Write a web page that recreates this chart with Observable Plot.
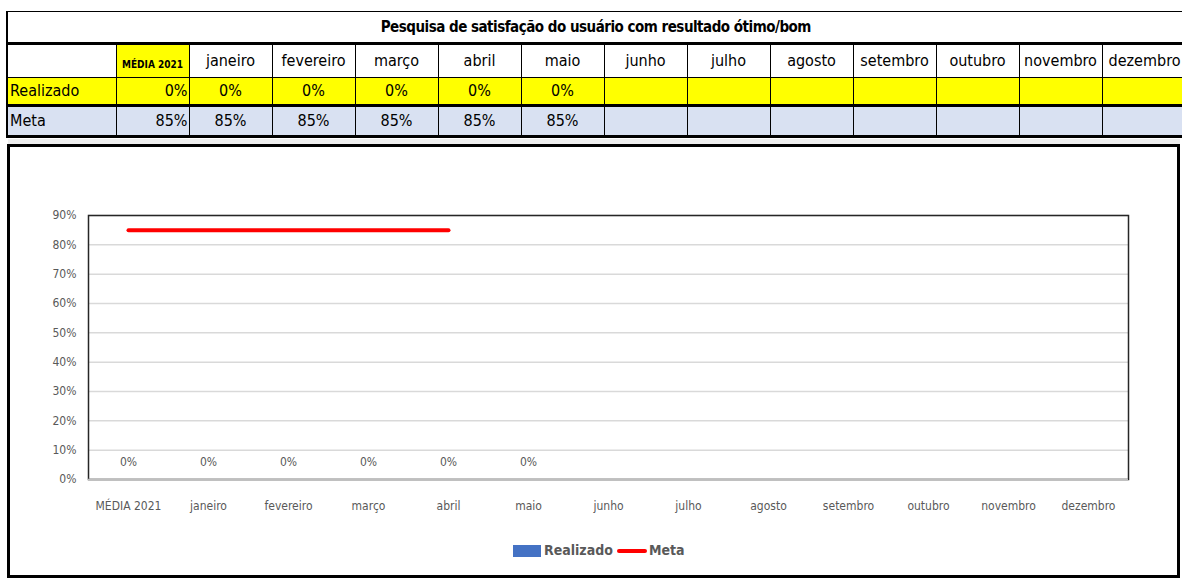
<!DOCTYPE html>
<html>
<head>
<meta charset="utf-8">
<script src="https://cdn.jsdelivr.net/npm/d3@7"></script>
<script src="https://cdn.jsdelivr.net/npm/@observablehq/plot@0.6"></script>
<style>
  html, body { margin: 0; padding: 0; background: #fff; width: 1182px; height: 580px; overflow: hidden; }
  body { position: relative; font-family: "DejaVu Sans Condensed", "DejaVu Sans", sans-serif; font-stretch: condensed; }
  #tbl { position: absolute; left: 6px; top: 11px; border-collapse: collapse; table-layout: fixed; width: 1180px; }
  #tbl td { padding: 0 3px; border-left: 1px solid #000; border-right: 1px solid #000; font-size: 16px; line-height: 18px; color: #000; white-space: nowrap; overflow: hidden; box-sizing: border-box; }
  #tbl tr.title td { border-top: 1px solid #000; border-left: 2px solid #000; border-bottom: 3px solid #000; height: 32px; text-align: center; font-weight: bold; font-size: 15px; letter-spacing: -0.5px; padding-left: 0; }
  #tbl tr.head td { height: 34px; text-align: center; border-bottom: 1px solid #000; background: #fff; }
  #tbl tr.head td.media { background: #FFFF00; font-weight: bold; font-size: 10px; padding-top: 7px; }
  #tbl tr.real td { height: 28px; background: #FFFF00; text-align: center; border-bottom: 3px solid #000; }
  #tbl tr.meta td { height: 31px; background: #D9E1F2; text-align: center; border-bottom: 3px solid #000; }
  #tbl tr td.lab { text-align: left; border-left: 2px solid #000; padding-left: 2px; }
  #tbl tr td.right { text-align: right; padding-right: 1px; }
  #gap { position: absolute; left: 8px; top: 139px; width: 1172px; height: 5px; background: #eeeeee; }
  #box { position: absolute; left: 7px; top: 144px; width: 1167px; height: 428px; border: 3px solid #000; background: #fff; }
  #chart { position: absolute; left: 2px; top: 1px; }
  #legend { position: absolute; left: 0; top: 393px; width: 100%; height: 20px; }
  .sw { position: absolute; }
  .lt { position: absolute; font-weight: bold; font-size: 14px; color: #595959; top: 0; line-height: 20px; }
</style>
</head>
<body>
<table id="tbl"></table>
<div id="gap"></div>
<div id="box">
  <div id="chart"></div>
  <div id="legend">
    <div class="sw" style="left:503px; top:5px; width:28px; height:12px; background:#4472C4;"></div>
    <div class="lt" style="left:534px;">Realizado</div>
    <div class="sw" style="left:607px; top:9px; width:30px; height:4px; background:#FF0000; border-radius:2px;"></div>
    <div class="lt" style="left:639px;">Meta</div>
  </div>
</div>
<script>
const title = "Pesquisa de satisfação do usuário com resultado ótimo/bom";
const categories = ["MÉDIA 2021","janeiro","fevereiro","março","abril","maio","junho","julho","agosto","setembro","outubro","novembro","dezembro"];
const realizado = [0, 0, 0, 0, 0, 0, null, null, null, null, null, null, null];
const meta = [0.85, 0.85, 0.85, 0.85, 0.85, 0.85, null, null, null, null, null, null, null];
// Meta line as drawn in the chart (stops at abril)
const metaChart = [0.85, 0.85, 0.85, 0.85, 0.85, null, null, null, null, null, null, null, null];
const yTicks = [0, 0.1, 0.2, 0.3, 0.4, 0.5, 0.6, 0.7, 0.8, 0.9];

const pct = d3.format(".0%");

// ---- table ----
const colWidths = [109, 73].concat(Array(11).fill(83)).concat([85]);
const tbl = document.getElementById("tbl");
const cg = document.createElement("colgroup");
colWidths.forEach(w => { const c = document.createElement("col"); c.style.width = w + "px"; cg.appendChild(c); });
tbl.appendChild(cg);
function row(cls) { const tr = document.createElement("tr"); tr.className = cls; tbl.appendChild(tr); return tr; }
function cell(tr, text, cls) { const td = document.createElement("td"); td.textContent = text; if (cls) td.className = cls; tr.appendChild(td); return td; }
const tr0 = row("title");
const tt = cell(tr0, title); tt.colSpan = categories.length + 1;
const tr1 = row("head");
cell(tr1, "", "lab");
categories.forEach((c, i) => cell(tr1, c, i === 0 ? "media" : ""));
const tr2 = row("real");
cell(tr2, "Realizado", "lab");
realizado.forEach((v, i) => cell(tr2, v == null ? "" : pct(v), i === 0 ? "right" : ""));
const tr3 = row("meta");
cell(tr3, "Meta", "lab");
meta.forEach((v, i) => cell(tr3, v == null ? "" : pct(v), i === 0 ? "right" : ""));

// ---- chart ----
const barData = categories.map((c, i) => ({cat: c, v: realizado[i]})).filter(d => d.v != null);
const lineData = categories.map((c, i) => ({cat: c, v: metaChart[i]})).filter(d => d.v != null);

const chart = Plot.plot({
  width: 1165,
  height: 382,
  marginLeft: 76,
  marginRight: 49,
  marginTop: 67,
  marginBottom: 51,
  style: { fontFamily: "'DejaVu Sans Condensed', 'DejaVu Sans', sans-serif", fontSize: "12px", color: "#595959", background: "transparent" },
  x: { domain: categories, paddingInner: 0.4, paddingOuter: 0.2, label: null, tickSize: 0, tickPadding: 22 },
  y: { domain: [0, 0.9], ticks: yTicks, tickFormat: pct, label: null, tickSize: 0, tickPadding: 12 },
  marks: [
    Plot.gridY(yTicks, { stroke: "#d9d9d9", strokeOpacity: 1, strokeWidth: 1.5 }),
    Plot.frame({ stroke: "#262626", strokeWidth: 1.5 }),
    Plot.ruleY([0], { stroke: "#bfbfbf", strokeWidth: 1.5 }),
    Plot.barY(barData, { x: "cat", y: "v", fill: "#4472C4" }),
    Plot.text(barData, { x: "cat", y: "v", text: d => pct(d.v), dy: -17, fill: "#595959", fontSize: 12 }),
    Plot.lineY(lineData, { x: "cat", y: "v", stroke: "#FF0000", strokeWidth: 4, strokeLinecap: "round" })
  ]
});
document.getElementById("chart").appendChild(chart);
</script>
</body>
</html>
